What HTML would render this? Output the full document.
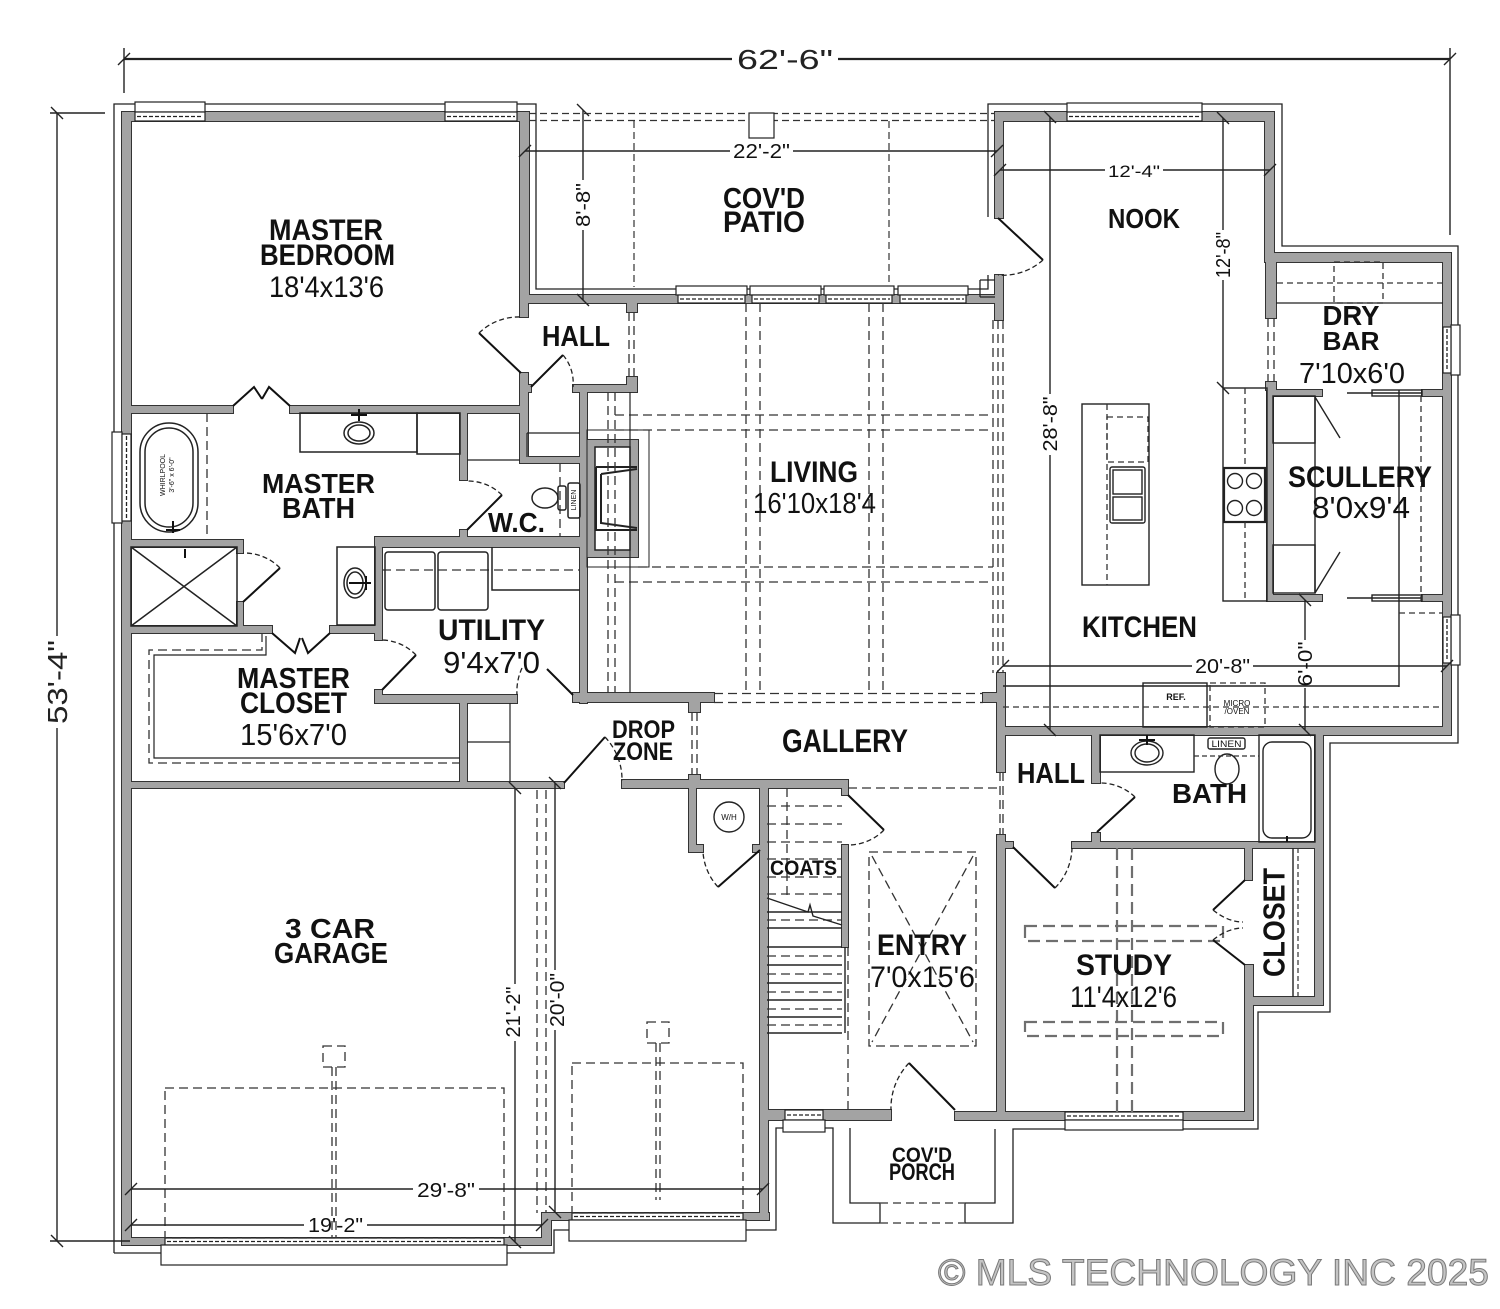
<!DOCTYPE html>
<html><head><meta charset="utf-8"><style>
html,body{margin:0;padding:0;background:#fff}
svg{display:block}
.t{font-family:"Liberation Sans",sans-serif;font-weight:bold;text-anchor:middle;fill:#111}
.n{font-family:"Liberation Sans",sans-serif;text-anchor:middle;fill:#111}
.d{font-family:"Liberation Sans Narrow","Liberation Sans",sans-serif;text-anchor:middle;fill:#222}
</style></head><body>
<svg width="1500" height="1309" viewBox="0 0 1500 1309" xmlns="http://www.w3.org/2000/svg">
<rect width="1500" height="1309" fill="#fff"/>
<defs>
<g id="w">
<rect x="122" y="112" width="406" height="9"/>
<rect x="122" y="112" width="9" height="1133"/>
<rect x="520" y="112" width="9" height="191"/>
<rect x="520" y="295" width="483" height="8"/>
<rect x="995" y="112" width="8" height="106"/>
<rect x="995" y="275" width="8" height="45"/>
<rect x="995" y="112" width="279" height="9"/>
<rect x="1265" y="112" width="9" height="150"/>
<rect x="1265" y="253" width="186" height="9"/>
<rect x="1443" y="253" width="8" height="482"/>
<rect x="1315" y="727" width="136" height="8"/>
<rect x="1315" y="727" width="8" height="278"/>
<rect x="1245" y="997" width="78" height="8"/>
<rect x="1245" y="965" width="8" height="155"/>
<rect x="955" y="1112" width="298" height="8"/>
<rect x="762" y="1110" width="129" height="10"/>
<rect x="760" y="782" width="8" height="438"/>
<rect x="542" y="1213" width="227" height="7"/>
<rect x="542" y="1213" width="9" height="32"/>
<rect x="122" y="1238" width="429" height="7"/>
<rect x="131" y="406" width="102" height="7"/>
<rect x="290" y="406" width="238" height="7"/>
<rect x="520" y="303" width="8" height="14"/>
<rect x="520" y="373" width="8" height="90"/>
<rect x="520" y="385" width="11" height="7"/>
<rect x="573" y="385" width="64" height="7"/>
<rect x="627" y="303" width="10" height="9"/>
<rect x="627" y="377" width="10" height="15"/>
<rect x="520" y="457" width="67" height="6"/>
<rect x="580" y="385" width="7" height="318"/>
<rect x="460" y="413" width="7" height="67"/>
<rect x="460" y="530" width="7" height="17"/>
<rect x="375" y="537" width="212" height="10"/>
<rect x="375" y="537" width="7" height="103"/>
<rect x="375" y="690" width="7" height="13"/>
<rect x="375" y="695" width="142" height="8"/>
<rect x="573" y="693" width="141" height="9"/>
<rect x="131" y="540" width="112" height="7"/>
<rect x="237" y="540" width="6" height="13"/>
<rect x="237" y="602" width="6" height="31"/>
<rect x="131" y="626" width="141" height="7"/>
<rect x="330" y="626" width="52" height="7"/>
<rect x="460" y="703" width="7" height="79"/>
<rect x="131" y="782" width="433" height="6"/>
<rect x="622" y="780" width="226" height="8"/>
<rect x="689" y="702" width="11" height="10"/>
<rect x="689" y="775" width="11" height="7"/>
<rect x="689" y="782" width="7" height="70"/>
<rect x="689" y="845" width="14" height="7"/>
<rect x="753" y="845" width="14" height="7"/>
<rect x="842" y="782" width="6" height="13"/>
<rect x="842" y="845" width="6" height="102"/>
<rect x="983" y="693" width="22" height="9"/>
<rect x="997" y="673" width="8" height="99"/>
<rect x="997" y="835" width="8" height="277"/>
<rect x="1003" y="727" width="322" height="8"/>
<rect x="1092" y="735" width="8" height="48"/>
<rect x="1092" y="833" width="8" height="9"/>
<rect x="1005" y="842" width="8" height="6"/>
<rect x="1072" y="842" width="251" height="6"/>
<rect x="1245" y="848" width="7" height="32"/>
<rect x="1267" y="390" width="6" height="211"/>
<rect x="1267" y="390" width="55" height="6"/>
<rect x="1422" y="390" width="21" height="6"/>
<rect x="1267" y="595" width="55" height="6"/>
<rect x="1422" y="595" width="21" height="6"/>
<rect x="1266" y="262" width="10" height="56"/>
<rect x="1266" y="382" width="10" height="8"/>
<rect x="587" y="440" width="51" height="117"/>
</g>
</defs>
<use href="#w" fill="#a3a3a3" stroke="#333" stroke-width="2"/>
<use href="#w" fill="#a3a3a3"/>

<!-- fireplace interior -->
<rect x="587" y="430" width="62" height="137" fill="none" stroke="#222" stroke-width="1"/>
<rect x="595" y="447" width="35" height="103" fill="#fff" stroke="#222" stroke-width="1.5"/>
<path d="M596,467 H637 M596,467 V530 H637 M601,474 L637,469 M601,474 V523 L637,528" fill="none" stroke="#222" stroke-width="2"/>

<!-- outer thin lines -->
<g fill="none" stroke="#222" stroke-width="1.3">
<path d="M114,1253 V104 H536 V289 H988 V275"/>
<path d="M988,217 V104 H1282 V246 H1458 V743 H1330 V1012 H1258 V1129 H1013 V1223 H965"/>
<path d="M880,1223 H833 V1128 H776 V1230 H554 V1253 H114"/>
<path d="M850,1128 V1203 H880 M965,1203 H995 V1129 M880,1203 V1223 M965,1203 V1223"/>
<path d="M980,280 H995 M980,297 H995 M980,280 V297"/>
</g>
<path d="M880,1203 H965 M880,1223 H965" stroke="#555" stroke-width="1.5" stroke-dasharray="8 5" fill="none"/>

<!-- patio -->
<g fill="none" stroke="#333" stroke-width="1.2" stroke-dasharray="7 4">
<path d="M529,113.5 H995 M529,120.5 H995"/>
<path d="M634,121 V287 M889,121 V287"/>
</g>
<rect x="749" y="113" width="25" height="25" fill="#fff" stroke="#222" stroke-width="1.2"/>

<!-- windows -->
<g fill="#fff" stroke="#222" stroke-width="1.2">
<rect x="135" y="102" width="70" height="10"/><rect x="135" y="112" width="70" height="9"/>
<rect x="445" y="102" width="72" height="10"/><rect x="445" y="112" width="72" height="9"/>
<rect x="1067" y="103" width="135" height="9"/><rect x="1067" y="112" width="135" height="9"/>
<rect x="676" y="286" width="71" height="9"/><rect x="678" y="295" width="67" height="8"/>
<rect x="750" y="286" width="71" height="9"/><rect x="752" y="295" width="67" height="8"/>
<rect x="824" y="286" width="70" height="9"/><rect x="826" y="295" width="66" height="8"/>
<rect x="898" y="286" width="70" height="9"/><rect x="900" y="295" width="66" height="8"/>
<rect x="112" y="432" width="10" height="91"/><rect x="122" y="434" width="9" height="87"/>
<rect x="1451" y="325" width="9" height="50"/><rect x="1443" y="327" width="8" height="46"/>
<rect x="1451" y="615" width="9" height="50"/><rect x="1443" y="617" width="8" height="46"/>
<rect x="1065" y="1112" width="118" height="8"/><rect x="1065" y="1120" width="118" height="10"/>
<rect x="785" y="1110" width="38" height="10"/><rect x="783" y="1120" width="42" height="12"/>
<rect x="165" y="1238" width="339" height="7"/><rect x="161" y="1245" width="346" height="20"/>
<rect x="572" y="1213" width="171" height="7"/><rect x="569" y="1220" width="177" height="21"/>
</g>
<g fill="none" stroke="#222" stroke-width="1.3" stroke-dasharray="4 2">
<path d="M137,116.5 H203 M447,116.5 H515 M1069,116.5 H1200"/>
<path d="M680,299 H743 M754,299 H817 M828,299 H890 M902,299 H964"/>
<path d="M126.5,436 V519 M1447,329 V371 M1447,619 V661 M1067,1116 H1181 M787,1115 H821"/>
<path d="M167,1241.5 H502 M574,1216.5 H741"/>
</g>

<!-- living grid & misc dashed -->
<g fill="none" stroke="#333" stroke-width="1.3" stroke-dasharray="9 5">
<path d="M746,303 V693 M760,303 V693 M869,303 V693 M883,303 V693"/>
<path d="M615,415 H993 M615,430 H993 M638,567 H993 M615,582 H993"/>
<path d="M993,320 V673 M1003,320 V673"/>
<path d="M608,392 V693 M615,392 V693"/>
<path d="M634,312 V377 M629,312 V377"/>
<path d="M714,693.5 H983 M714,702.5 H983"/>
<path d="M692,712 V775 M697,712 V775"/>
<path d="M848,788 H997"/>
<path d="M1000,772 V835 M1003,772 V835"/>
<path d="M998,320 V673"/>
<path d="M1268,318 V382 M1274,318 V382"/>
<path d="M207,413 V540"/>
<path d="M560,463 V537"/>
<path d="M382,570 H580"/>
<path d="M262,633 V650 H149 V763 H460"/>
</g>
<path d="M630,392 V693 M266,636 V655 H154 V758 H460 M467,742 H510 M510,703 V782 M467,460 H520 M527,433 H580 M527,433 V457" fill="none" stroke="#222" stroke-width="1.2"/>

<!-- master bath fixtures -->
<g fill="none" stroke="#222" stroke-width="1.5">
<rect x="140" y="423" width="58" height="109" rx="29"/>
<rect x="145" y="428" width="48" height="99" rx="24"/>
<rect x="300" y="413" width="117" height="39"/>
<rect x="417" y="413" width="43" height="41"/>
<ellipse cx="359" cy="433" rx="15" ry="11"/>
<ellipse cx="359" cy="433" rx="11" ry="8"/>
<rect x="131" y="547" width="106" height="79"/>
<path d="M131,547 L237,626 M237,547 L131,626"/>
<rect x="337" y="547" width="38" height="78"/>
<ellipse cx="355" cy="583" rx="11" ry="15"/>
<ellipse cx="355" cy="583" rx="8" ry="11"/>
<ellipse cx="545" cy="498" rx="13" ry="10"/>
<rect x="558" y="486" width="8" height="24" rx="2"/>
<rect x="568" y="483" width="12" height="35" rx="2"/>
<rect x="385" y="552" width="50" height="58" rx="3"/>
<rect x="438" y="552" width="50" height="58" rx="3"/>
<path d="M492,547 V590 H580"/>
</g>
<path d="M351,415 H367 M359,409 V421 M166,530 H180 M173,521 V533 M185,549 V558 M349,583 H371 M366,576 V590" stroke="#111" stroke-width="2" fill="none"/>
<text class="n" font-size="7" transform="rotate(-90 165 475)" x="165" y="475">WHIRLPOOL</text>
<text class="n" font-size="7" transform="rotate(-90 174 475)" x="174" y="475">3'-6" x 6'-0"</text>
<text class="n" font-size="7" transform="rotate(-90 576 500)" x="576" y="500">LINEN</text>

<!-- kitchen -->
<g fill="none" stroke="#222" stroke-width="1.4">
<rect x="1082" y="404" width="67" height="181"/>
<rect x="1110" y="467" width="35" height="56" rx="2"/>
<rect x="1113" y="470" width="29" height="24"/>
<rect x="1113" y="497" width="29" height="23"/>
<rect x="1223" y="388" width="44" height="213"/>
<rect x="1224" y="468" width="41" height="54" stroke-width="2.2"/>
<circle cx="1235" cy="481" r="7.5"/><circle cx="1254" cy="481" r="7.5"/>
<circle cx="1235" cy="508" r="7.5"/><circle cx="1254" cy="508" r="7.5"/>
<rect x="1273" y="396" width="42" height="47"/>
<rect x="1273" y="545" width="42" height="48"/>
<path d="M1315,396 V593 M1315,397 L1340,438 M1315,593 L1340,552"/>
<path d="M1399,390 V687 M1003,686 H1399"/>
<rect x="1143" y="683" width="64" height="44"/>
<path d="M1347,393 H1422 M1347,598 H1422"/>
<rect x="1372" y="390" width="50" height="6"/>
<rect x="1372" y="595" width="50" height="6"/>
</g>
<g fill="none" stroke="#333" stroke-width="1.3" stroke-dasharray="6 4">
<path d="M1107,404 V585"/>
<rect x="1107" y="417" width="41" height="45"/>
<path d="M1245,388 V468 M1245,522 V601 M1421,396 V601 M1003,707 H1443 M1399,613 H1443"/>
<rect x="1210" y="683" width="55" height="44"/>
<path d="M1277,283 H1442"/>
<rect x="1334" y="262" width="49" height="41"/>
</g>
<path d="M1276,303 H1443" stroke="#222" stroke-width="1.2"/>

<!-- lower bath / study -->
<g fill="none" stroke="#222" stroke-width="1.4">
<rect x="1100" y="735" width="94" height="37"/>
<ellipse cx="1147" cy="753" rx="16" ry="12"/>
<ellipse cx="1147" cy="753" rx="12" ry="9"/>
<rect x="1208" y="738" width="37" height="11" rx="2"/>
<ellipse cx="1227" cy="769" rx="12" ry="15"/>
<rect x="1259" y="735" width="56" height="107"/>
<rect x="1263" y="742" width="48" height="96" rx="9"/>
<path d="M1293,848 V997"/>
</g>
<path d="M1194,756 H1259 M1298,848 V997" stroke="#333" stroke-width="1.2" stroke-dasharray="5 3" fill="none"/>
<path d="M1139,740 H1155 M1147,735 V745 M1287,836 V842" stroke="#111" stroke-width="2"/>
<text class="n" font-size="9" x="1226.5" y="747" textLength="30" lengthAdjust="spacingAndGlyphs">LINEN</text>
<g fill="none" stroke="#6f6f6f" stroke-width="2.2" stroke-dasharray="12 6">
<rect x="1025" y="926" width="198" height="15"/>
<rect x="1025" y="1022" width="198" height="14"/>
<path d="M1117,848 V1113 M1132,848 V1113"/>
</g>

<!-- entry, stairs, garage -->
<g fill="none" stroke="#333" stroke-width="1.3" stroke-dasharray="9 5">
<rect x="869" y="852" width="107" height="194"/>
<path d="M872,856 L973,1042 M973,856 L872,1042"/>
<path d="M767,806 H842 M767,824 H842 M767,842 H842 M767,859 H842 M767,877 H842 M767,894 H842"/>
<path d="M787,788 V900 M848,947 V1110"/>
<path d="M767,920 H842 M767,956 H842 M767,974 H842 M767,992 H842 M767,1009 H842 M767,1025 H842"/>
<rect x="165" y="1088" width="339" height="150"/>
<rect x="572" y="1063" width="171" height="150"/>
<rect x="323" y="1046" width="22" height="21"/>
<rect x="647" y="1022" width="22" height="21"/>
<path d="M332,1067 V1238 M336,1067 V1238 M656,1043 V1200 M660,1043 V1200"/>
<path d="M537,790 V1213 M546,790 V1213"/>
</g>
<g fill="none" stroke="#222" stroke-width="1.4">
<path d="M767,898 L808,912 L810,905 L813,916 L842,925"/>
<path d="M767,912 H842 M767,928 H842 M767,947 H842 M767,965 H842 M767,983 H842 M767,1000 H842 M767,1017 H842 M767,1033 H842"/>
<path d="M845,947 V1033"/>
<circle cx="729" cy="817" r="15"/>
</g>
<text class="n" font-size="8" x="729" y="820">W/H</text>

<!-- doors -->
<g fill="none" stroke="#111" stroke-width="2">
<path d="M521,373 L479,333 M531,387 L563,355 M233,406 L254,387 L262,399 M290,406 L269,387 L262,399"/>
<path d="M467,530 L502,495 M243,602 L280,568 M272,633 L295,653 L300,638 M330,633 L308,653 L302,638"/>
<path d="M382,690 L416,655 M547,669 L573,695 M564,783 L605,737 M760,850 L718,887 M848,795 L884,830"/>
<path d="M955,1110 L909,1063 M998,218 L1043,260 M1097,832 L1135,797 M1013,847 L1055,888"/>
<path d="M1245,880 L1213,910 M1245,965 L1213,940"/>
</g>
<g fill="none" stroke="#222" stroke-width="1.3" stroke-dasharray="5 3">
<path d="M479,333 A57,57 0 0 1 521,317"/>
<path d="M563,355 A43,43 0 0 1 573,387"/>
<path d="M502,495 A49,49 0 0 0 467,481"/>
<path d="M280,568 A50,50 0 0 0 243,553"/>
<path d="M416,655 A49,49 0 0 0 382,640"/>
<path d="M522,668 A56,56 0 0 0 517,695"/>
<path d="M605,737 A62,62 0 0 1 622,781"/>
<path d="M718,887 A57,57 0 0 1 703,852"/>
<path d="M884,830 A50,50 0 0 1 848,845"/>
<path d="M909,1063 A65,65 0 0 0 891,1110"/>
<path d="M1043,260 A60,60 0 0 1 998,275"/>
<path d="M1135,797 A50,50 0 0 0 1100,783"/>
<path d="M1055,888 A59,59 0 0 0 1072,848"/>
<path d="M1213,910 Q1228,922 1243,922 M1213,940 Q1228,928 1243,928"/>
</g>

<!-- dimension lines -->
<g fill="none" stroke="#222" stroke-width="1.4">
<path d="M124,59 H732 M838,59 H1450" stroke-width="2.2"/>
<path d="M124,48 V93 M1450,48 V235"/>
<path d="M57,113 V636 M57,728 V1241 M50,113 H105 M50,1241 H130"/>
<path d="M525,151 H730 M793,151 H997"/>
<path d="M1000,170 H1105 M1163,170 H1270"/>
<path d="M583,110 V180 M583,230 V300"/>
<path d="M1223,118 V230 M1223,280 V388"/>
<path d="M1050,117 V394 M1050,455 V730"/>
<path d="M1003,666 H1192 M1253,666 H1447"/>
<path d="M1305,600 V640 M1305,688 V730"/>
<path d="M515,788 V984 M515,1041 V1242"/>
<path d="M555,783 V970 M555,1030 V1212"/>
<path d="M131,1189 H413 M479,1189 H763"/>
<path d="M131,1225 H304 M367,1225 H542"/>
<!-- ticks -->
<path d="M118,65 L130,53 M1444,65 L1456,53 M51,107 L63,119 M51,1235 L63,1247"/>
<path d="M519,157 L531,145 M991,157 L1003,145 M994,176 L1006,164 M1264,176 L1276,164"/>
<path d="M577,104 L589,116 M577,294 L589,306 M1217,112 L1229,124 M1217,382 L1229,394"/>
<path d="M1044,111 L1056,123 M1044,724 L1056,736 M997,672 L1009,660 M1441,672 L1453,660"/>
<path d="M1299,594 L1311,606 M1299,724 L1311,736 M509,782 L521,794 M509,1236 L521,1248"/>
<path d="M549,777 L561,789 M549,1206 L561,1218 M125,1195 L137,1183 M757,1195 L769,1183"/>
<path d="M125,1231 L137,1219 M536,1231 L548,1219"/>
</g>

<!-- dimension text -->
<text class="d" font-size="28" x="785" y="69" textLength="96" lengthAdjust="spacingAndGlyphs">62'-6"</text>
<text class="d" font-size="28" transform="rotate(-90 57 682)" x="57" y="692" textLength="84" lengthAdjust="spacingAndGlyphs">53'-4"</text>
<text class="n" font-size="20" x="761.5" y="158" textLength="57" lengthAdjust="spacingAndGlyphs">22'-2"</text>
<text class="n" font-size="17" x="1134" y="177" textLength="52" lengthAdjust="spacingAndGlyphs">12'-4"</text>
<text class="n" font-size="20" transform="rotate(-90 583 205)" x="583" y="212" textLength="44" lengthAdjust="spacingAndGlyphs">8'-8"</text>
<text class="n" font-size="20" transform="rotate(-90 1223 255)" x="1223" y="262" textLength="46" lengthAdjust="spacingAndGlyphs">12'-8"</text>
<text class="n" font-size="20" transform="rotate(-90 1050 424)" x="1050" y="431" textLength="55" lengthAdjust="spacingAndGlyphs">28'-8"</text>
<text class="n" font-size="20" x="1222.5" y="673" textLength="55" lengthAdjust="spacingAndGlyphs">20'-8"</text>
<text class="n" font-size="20" transform="rotate(-90 1305 664)" x="1305" y="671" textLength="45" lengthAdjust="spacingAndGlyphs">6'-0"</text>
<text class="n" font-size="20" transform="rotate(-90 513 1012)" x="513" y="1019" textLength="51" lengthAdjust="spacingAndGlyphs">21'-2"</text>
<text class="n" font-size="20" transform="rotate(-90 557 1000)" x="557" y="1007" textLength="54" lengthAdjust="spacingAndGlyphs">20'-0"</text>
<text class="n" font-size="20" x="446" y="1197" textLength="58" lengthAdjust="spacingAndGlyphs">29'-8"</text>
<text class="n" font-size="20" x="335.5" y="1232" textLength="55" lengthAdjust="spacingAndGlyphs">19'-2"</text>

<!-- small labels -->
<text class="n" font-size="9" font-weight="bold" x="1176" y="700">REF.</text>
<text class="n" font-size="8" x="1237" y="706">MICRO</text>
<text class="n" font-size="8" x="1237" y="714">/OVEN</text>

<!-- room labels -->
<g>
<text class="t" font-size="30" x="326" y="240" textLength="114" lengthAdjust="spacingAndGlyphs">MASTER</text>
<text class="t" font-size="30" x="327.5" y="265" textLength="135" lengthAdjust="spacingAndGlyphs">BEDROOM</text>
<text class="n" font-size="30" x="326.5" y="297" textLength="115" lengthAdjust="spacingAndGlyphs">18'4x13'6</text>
<text class="t" font-size="29" x="576" y="346" textLength="68" lengthAdjust="spacingAndGlyphs">HALL</text>
<text class="t" font-size="29" x="764" y="208" textLength="82" lengthAdjust="spacingAndGlyphs">COV'D</text>
<text class="t" font-size="30" x="764" y="232" textLength="82" lengthAdjust="spacingAndGlyphs">PATIO</text>
<text class="t" font-size="28" x="1144" y="228" textLength="72" lengthAdjust="spacingAndGlyphs">NOOK</text>
<text class="t" font-size="28" x="1351" y="325" textLength="57" lengthAdjust="spacingAndGlyphs">DRY</text>
<text class="t" font-size="26" x="1351" y="350" textLength="57" lengthAdjust="spacingAndGlyphs">BAR</text>
<text class="n" font-size="29" x="1352" y="383" textLength="106" lengthAdjust="spacingAndGlyphs">7'10x6'0</text>
<text class="t" font-size="30" x="814" y="482" textLength="88" lengthAdjust="spacingAndGlyphs">LIVING</text>
<text class="n" font-size="29" x="814.5" y="513" textLength="123" lengthAdjust="spacingAndGlyphs">16'10x18'4</text>
<text class="t" font-size="30" x="1360" y="487" textLength="144" lengthAdjust="spacingAndGlyphs">SCULLERY</text>
<text class="n" font-size="31" x="1361" y="518" textLength="98" lengthAdjust="spacingAndGlyphs">8'0x9'4</text>
<text class="t" font-size="30" x="1139.5" y="637" textLength="115" lengthAdjust="spacingAndGlyphs">KITCHEN</text>
<text class="t" font-size="28" x="318.5" y="493" textLength="113" lengthAdjust="spacingAndGlyphs">MASTER</text>
<text class="t" font-size="29" x="318.5" y="518" textLength="73" lengthAdjust="spacingAndGlyphs">BATH</text>
<text class="t" font-size="28" x="516.5" y="532" textLength="57" lengthAdjust="spacingAndGlyphs">W.C.</text>
<text class="t" font-size="30" x="491.5" y="640" textLength="107" lengthAdjust="spacingAndGlyphs">UTILITY</text>
<text class="n" font-size="31" x="491.5" y="673" textLength="97" lengthAdjust="spacingAndGlyphs">9'4x7'0</text>
<text class="t" font-size="29" x="293.5" y="688" textLength="113" lengthAdjust="spacingAndGlyphs">MASTER</text>
<text class="t" font-size="30" x="293.5" y="713" textLength="107" lengthAdjust="spacingAndGlyphs">CLOSET</text>
<text class="n" font-size="31" x="293.5" y="745" textLength="107" lengthAdjust="spacingAndGlyphs">15'6x7'0</text>
<text class="t" font-size="32" x="845" y="752" textLength="126" lengthAdjust="spacingAndGlyphs">GALLERY</text>
<text class="t" font-size="25" x="643.5" y="738" textLength="63" lengthAdjust="spacingAndGlyphs">DROP</text>
<text class="t" font-size="25" x="643" y="760" textLength="60" lengthAdjust="spacingAndGlyphs">ZONE</text>
<text class="t" font-size="28" x="330" y="938" textLength="90" lengthAdjust="spacingAndGlyphs">3 CAR</text>
<text class="t" font-size="29" x="331" y="963" textLength="114" lengthAdjust="spacingAndGlyphs">GARAGE</text>
<text class="t" font-size="21" x="803.5" y="875" textLength="67" lengthAdjust="spacingAndGlyphs">COATS</text>
<text class="t" font-size="30" x="922" y="955" textLength="90" lengthAdjust="spacingAndGlyphs">ENTRY</text>
<text class="n" font-size="30" x="922.5" y="987" textLength="105" lengthAdjust="spacingAndGlyphs">7'0x15'6</text>
<text class="t" font-size="21" x="922" y="1162" textLength="60" lengthAdjust="spacingAndGlyphs">COV'D</text>
<text class="t" font-size="24" x="922" y="1180" textLength="66" lengthAdjust="spacingAndGlyphs">PORCH</text>
<text class="t" font-size="29" x="1051" y="783" textLength="68" lengthAdjust="spacingAndGlyphs">HALL</text>
<text class="t" font-size="28" x="1209.5" y="803" textLength="75" lengthAdjust="spacingAndGlyphs">BATH</text>
<text class="t" font-size="30" x="1124" y="975" textLength="96" lengthAdjust="spacingAndGlyphs">STUDY</text>
<text class="n" font-size="30" x="1123.5" y="1007" textLength="107" lengthAdjust="spacingAndGlyphs">11'4x12'6</text>
<text class="t" font-size="31" transform="rotate(-90 1273.5 922.5)" x="1273.5" y="933.5" textLength="109" lengthAdjust="spacingAndGlyphs">CLOSET</text>
</g>

<text font-family="Liberation Sans, sans-serif" font-size="37" x="938" y="1285" textLength="551" lengthAdjust="spacingAndGlyphs" fill="#c4c4c4" stroke="#7a7a7a" stroke-width="1">© MLS TECHNOLOGY INC 2025</text>
</svg>
</body></html>
